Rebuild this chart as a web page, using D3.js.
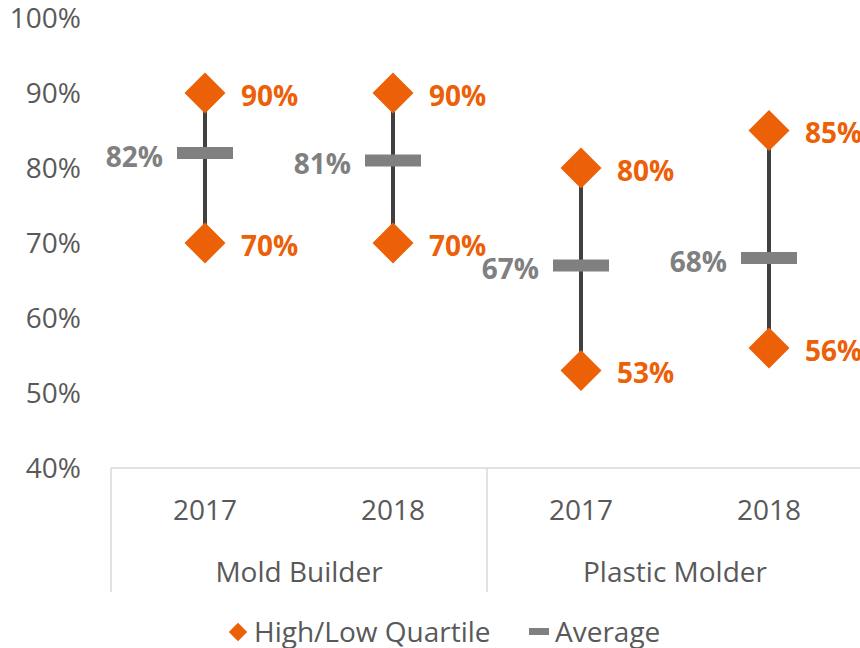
<!DOCTYPE html>
<html><head><meta charset="utf-8">
<script src="https://cdn.jsdelivr.net/npm/d3@7"></script>
<style>
body{margin:0;background:#fff;}
text{font-family:"Open Sans",sans-serif;}
</style></head>
<body><svg id="c" width="860" height="648"></svg>
<script>
const years = ["2017","2018","2017","2018"];
const groups = ["Mold Builder","Plastic Molder"];
const highQ = [90,90,80,85];
const lowQ = [70,70,53,56];
const avg = [82,81,67,68];
const yTicks = [40,50,60,70,80,90,100];
const legendLabels = ["High/Low Quartile","Average"];

const orange = "#EC6008", gray = "#808080", axisText = "#595959";
const FS = 28;
const svg = d3.select("#c");
const y = d3.scaleLinear().domain([40,100]).range([468,18]);
const x = d3.scaleBand().domain(d3.range(years.length)).range([111,863]);
const cx = i => x(i) + x.bandwidth()/2;

// Y axis
const ya = svg.append("g").attr("transform","translate(81,0)")
  .call(d3.axisLeft(y).tickValues(yTicks).tickSize(0).tickFormat(d=>d+"%"));
ya.select(".domain").remove();
ya.selectAll("text").attr("font-size",FS).attr("fill",axisText).attr("font-family","Open Sans").attr("dy","0.35em").attr("x",0);

// X axis line and separators
svg.append("line").attr("x1",111).attr("x2",860).attr("y1",y(40)).attr("y2",y(40)).attr("stroke","#d9d9d9").attr("stroke-width",1.5);
[0,2,4].forEach(i=>{
  const xx = i<years.length ? x(i) : x(years.length-1)+x.bandwidth();
  svg.append("line").attr("x1",xx).attr("x2",xx).attr("y1",y(40)).attr("y2",592).attr("stroke","#d9d9d9").attr("stroke-width",1.5);
});
svg.selectAll(".yr").data(years).enter().append("text")
  .attr("x",(d,i)=>cx(i)).attr("y",510).attr("dy","0.35em").attr("text-anchor","middle")
  .attr("font-size",FS).attr("fill",axisText).text(d=>d);
svg.selectAll(".grp").data(groups).enter().append("text")
  .attr("x",(d,i)=>(x(i*2)+x(i*2+1)+x.bandwidth())/2).attr("y",572).attr("dy","0.35em").attr("text-anchor","middle")
  .attr("font-size",FS).attr("fill",axisText).text(d=>d);

// Whiskers
svg.selectAll(".wh").data(years).enter().append("line")
  .attr("x1",(d,i)=>cx(i)).attr("x2",(d,i)=>cx(i))
  .attr("y1",(d,i)=>y(highQ[i])).attr("y2",(d,i)=>y(lowQ[i]))
  .attr("stroke","#404040").attr("stroke-width",4);

// Average bars
svg.selectAll(".avg").data(avg).enter().append("rect")
  .attr("x",(d,i)=>cx(i)-28).attr("y",d=>y(d)-6).attr("width",56).attr("height",12)
  .attr("fill",gray);

// Diamonds
const diamond = d3.symbol().type(d3.symbolSquare).size(29*29);
const pts = [];
years.forEach((d,i)=>{pts.push({i,v:highQ[i]});pts.push({i,v:lowQ[i]});});
svg.selectAll(".dm").data(pts).enter().append("path")
  .attr("d",diamond)
  .attr("transform",d=>`translate(${cx(d.i)},${y(d.v)}) rotate(45)`)
  .attr("fill",orange);

// Labels
svg.selectAll(".dl").data(pts).enter().append("text")
  .attr("x",d=>cx(d.i)+36).attr("y",d=>y(d.v)+3).attr("dy","0.35em")
  .attr("font-size",FS).attr("font-weight","bold").attr("fill",orange).text(d=>d.v+"%");
svg.selectAll(".al").data(avg).enter().append("text")
  .attr("x",(d,i)=>cx(i)-42).attr("y",d=>y(d)+4).attr("dy","0.35em").attr("text-anchor","end")
  .attr("font-size",FS).attr("font-weight","bold").attr("fill",gray).text(d=>d+"%");

// Legend
const lg = svg.append("g");
lg.append("path").attr("d",d3.symbol().type(d3.symbolSquare).size(13*13))
  .attr("transform","translate(238,632) rotate(45)").attr("fill",orange);
lg.append("text").attr("x",254).attr("y",632).attr("dy","0.35em").attr("font-size",FS).attr("fill",axisText).text(legendLabels[0]);
lg.append("rect").attr("x",529).attr("y",628).attr("width",20).attr("height",7).attr("fill",gray);
lg.append("text").attr("x",555).attr("y",632).attr("dy","0.35em").attr("font-size",FS).attr("fill",axisText).text(legendLabels[1]);
</script></body></html>
